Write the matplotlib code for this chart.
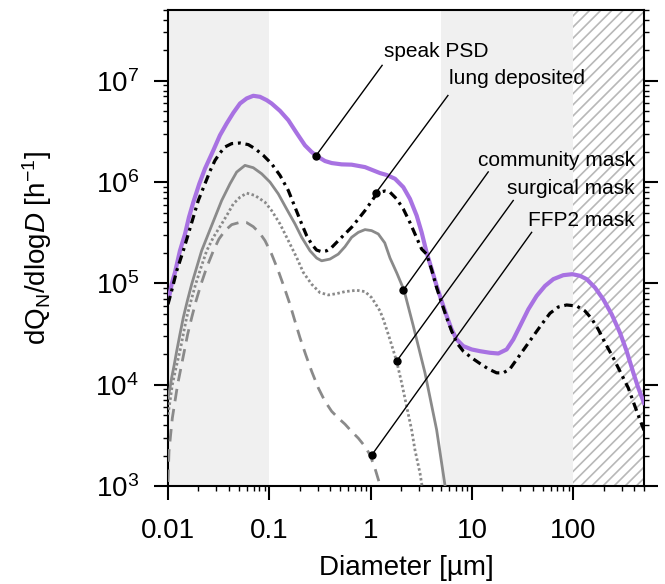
import numpy as np
import matplotlib
matplotlib.use('Agg')
import matplotlib.pyplot as plt
from matplotlib.ticker import LogLocator, FixedLocator, FixedFormatter, NullFormatter

plt.rcParams['font.family'] = ['Liberation Sans', 'DejaVu Sans']
plt.rcParams['mathtext.fontset'] = 'custom'
plt.rcParams['mathtext.rm'] = 'Liberation Sans'
plt.rcParams['mathtext.it'] = 'Liberation Sans:italic'
plt.rcParams['hatch.linewidth'] = 1.2

# curves: log10(diameter in um), log10(dQN/dlogD)
speak_lx = [-2.000, -1.980, -1.964, -1.931, -1.882, -1.832, -1.793, -1.750, -1.691, -1.635,
            -1.552, -1.487, -1.421, -1.355, -1.289, -1.223, -1.158, -1.092, -1.026, -0.977,
            -0.894, -0.812, -0.730, -0.648, -0.582, -0.532, -0.450, -0.384, -0.286, -0.187,
            -0.055, 0.093, 0.159, 0.241, 0.323, 0.389, 0.455, 0.504, 0.553, 0.603,
            0.652, 0.701, 0.751, 0.800, 0.850, 0.915, 0.998, 1.080, 1.179, 1.261,
            1.343, 1.409, 1.475, 1.557, 1.639, 1.722, 1.804, 1.902, 1.991, 2.067,
            2.133, 2.215, 2.297, 2.380, 2.462, 2.528, 2.594, 2.643, 2.699]
speak_ly = [4.827, 4.909, 4.992, 5.108, 5.322, 5.488, 5.653, 5.801, 5.983, 6.132,
            6.314, 6.462, 6.578, 6.684, 6.776, 6.826, 6.852, 6.842, 6.809, 6.776,
            6.703, 6.611, 6.485, 6.363, 6.297, 6.257, 6.208, 6.188, 6.175, 6.172,
            6.148, 6.089, 6.070, 6.033, 5.950, 5.834, 5.669, 5.504, 5.306, 5.141,
            4.976, 4.827, 4.678, 4.546, 4.447, 4.381, 4.348, 4.331, 4.315, 4.308,
            4.348, 4.447, 4.579, 4.744, 4.876, 4.975, 5.042, 5.081, 5.091, 5.075,
            5.042, 4.959, 4.843, 4.695, 4.513, 4.331, 4.117, 3.968, 3.820]

lung_lx = [-2.000, -1.964, -1.914, -1.849, -1.799, -1.750, -1.701, -1.635, -1.585, -1.536,
           -1.487, -1.437, -1.371, -1.289, -1.207, -1.141, -1.059, -0.977, -0.894, -0.812,
           -0.746, -0.680, -0.631, -0.582, -0.533, -0.483, -0.434, -0.384, -0.286, -0.187,
           -0.121, -0.055, 0.010, 0.060, 0.093, 0.142, 0.191, 0.257, 0.323, 0.389,
           0.455, 0.504, 0.553, 0.603, 0.652, 0.701, 0.751, 0.800, 0.850, 0.915,
           0.998, 1.080, 1.162, 1.244, 1.310, 1.376, 1.442, 1.524, 1.606, 1.689,
           1.771, 1.853, 1.935, 2.034, 2.116, 2.182, 2.248, 2.314, 2.396, 2.478,
           2.544, 2.610, 2.659, 2.699]
lung_ly = [4.794, 4.926, 5.124, 5.322, 5.488, 5.653, 5.818, 5.983, 6.109, 6.214,
           6.287, 6.347, 6.380, 6.386, 6.370, 6.330, 6.264, 6.181, 6.066, 5.917,
           5.752, 5.587, 5.471, 5.388, 5.329, 5.313, 5.322, 5.355, 5.455, 5.554,
           5.636, 5.719, 5.811, 5.884, 5.901, 5.912, 5.901, 5.834, 5.735, 5.600,
           5.450, 5.339, 5.289, 5.134, 4.959, 4.810, 4.662, 4.530, 4.414, 4.331,
           4.265, 4.209, 4.156, 4.117, 4.117, 4.156, 4.249, 4.364, 4.480, 4.596,
           4.705, 4.767, 4.787, 4.777, 4.728, 4.652, 4.546, 4.414, 4.265, 4.100,
           3.968, 3.786, 3.654, 3.550]

community_lx = [-2.000, -1.980, -1.964, -1.938, -1.914, -1.882, -1.849, -1.809, -1.766, -1.717,
                -1.668, -1.602, -1.536, -1.470, -1.388, -1.322, -1.240, -1.158, -1.075, -0.993,
                -0.911, -0.829, -0.746, -0.680, -0.598, -0.532, -0.483, -0.401, -0.319, -0.253,
                -0.187, -0.121, -0.055, 0.010, 0.076, 0.140, 0.192, 0.260, 0.330, 0.422,
                0.537, 0.652, 0.734, 0.784]
community_ly = [3.869, 3.968, 4.067, 4.199, 4.331, 4.497, 4.662, 4.827, 4.992, 5.157,
                5.322, 5.488, 5.653, 5.818, 5.983, 6.099, 6.165, 6.142, 6.082, 6.000,
                5.884, 5.735, 5.587, 5.455, 5.322, 5.250, 5.223, 5.240, 5.289, 5.362,
                5.455, 5.504, 5.531, 5.521, 5.488, 5.400, 5.250, 5.100, 4.933, 4.579,
                4.117, 3.555, 3.010, 2.710]

surgical_lx = [-2.000, -1.980, -1.957, -1.921, -1.882, -1.849, -1.816, -1.773, -1.727, -1.674,
               -1.618, -1.552, -1.470, -1.411, -1.355, -1.289, -1.223, -1.141, -1.042, -0.977,
               -0.894, -0.812, -0.730, -0.664, -0.582, -0.500, -0.417, -0.335, -0.253, -0.138,
               -0.055, 0.010, 0.093, 0.126, 0.191, 0.257, 0.307, 0.356, 0.405, 0.438,
               0.488, 0.504, 0.521]
surgical_ly = [3.704, 3.836, 4.001, 4.166, 4.331, 4.497, 4.662, 4.827, 4.992, 5.157,
               5.322, 5.455, 5.587, 5.686, 5.785, 5.851, 5.891, 5.868, 5.801, 5.719,
               5.587, 5.422, 5.256, 5.108, 4.992, 4.909, 4.886, 4.899, 4.919, 4.932,
               4.919, 4.860, 4.728, 4.645, 4.447, 4.232, 4.017, 3.786, 3.555, 3.357,
               3.126, 3.026, 2.927]

ffp2_lx = [-2.000, -1.990, -1.974, -1.957, -1.931, -1.905, -1.872, -1.839, -1.806, -1.766,
           -1.723, -1.674, -1.618, -1.552, -1.497, -1.437, -1.371, -1.289, -1.223, -1.158,
           -1.092, -1.042, -0.977, -0.911, -0.852, -0.796, -0.747, -0.697, -0.641, -0.582,
           -0.516, -0.450, -0.384, -0.319, -0.253, -0.187, -0.121, -0.055, -0.006, 0.043,
           0.093, 0.126]
ffp2_ly = [3.040, 3.340, 3.505, 3.671, 3.836, 4.001, 4.166, 4.331, 4.497, 4.662,
           4.827, 4.992, 5.157, 5.322, 5.438, 5.521, 5.580, 5.603, 5.600, 5.560,
           5.494, 5.422, 5.289, 5.124, 4.959, 4.794, 4.629, 4.464, 4.298, 4.133,
           3.968, 3.836, 3.737, 3.671, 3.611, 3.538, 3.472, 3.390, 3.307, 3.175,
           3.010, 2.878]

# annotations: label, dot (x, y), line start (x, y), text (x, y), alignment
labels = ['speak PSD', 'lung deposited', 'community mask', 'surgical mask', 'FFP2 mask']
dot_xy = [(0.289, 1.82e6), (1.13, 7.83e5), (2.10, 8.57e4), (1.81, 1.71e4), (1.03, 2.03e3)]
line_xy = [(1.30, 1.42e7), (5.8, 7.16e6), (14.5, 1.26e6), (25.6, 6.58e5), (38.9, 3.19e5)]
text_xy = [(1.36, 1.95e7), (5.94, 1.06e7), (407, 1.64e6), (407, 8.6e5), (407, 4.16e5)]
text_ha = ['left', 'left', 'right', 'right', 'right']

purple = '#a872e2'
gray = '#8a8a8a'

fig = plt.figure(figsize=(6.65, 5.84), dpi=100)
ax = fig.add_axes([0.2526, 0.1678, 0.9684 - 0.2526, 0.9829 - 0.1678])

ax.axvspan(0.01, 0.1, color='#f0f0f0', lw=0, zorder=0)
ax.axvspan(5, 100, color='#f0f0f0', lw=0, zorder=0)
ax.axvspan(100, 500, facecolor='white', edgecolor='#b8b8b8', hatch='///', lw=0, zorder=0)


def pts(lx, ly):
    return 10 ** np.array(lx), 10 ** np.array(ly)


ax.plot(*pts(ffp2_lx, ffp2_ly), color=gray, lw=2.0, ls=(0, (4.5, 2.8)), zorder=3)
ax.plot(*pts(surgical_lx, surgical_ly), color=gray, lw=2.0, ls=(0, (0.9, 0.9)), zorder=3)
ax.plot(*pts(community_lx, community_ly), color=gray, lw=2.0, zorder=3)
ax.plot(*pts(speak_lx, speak_ly), color=purple, lw=3.0, zorder=4)
ax.plot(*pts(lung_lx, lung_ly), color='black', lw=2.3, ls=(0, (2.7, 1.5, 0.9, 1.5)), zorder=5)

for lab, d, l, t, ha in zip(labels, dot_xy, line_xy, text_xy, text_ha):
    ax.plot([d[0], l[0]], [d[1], l[1]], color='black', lw=1.0, zorder=6)
    ax.plot(d[0], d[1], 'o', color='black', ms=5, zorder=7)
    ax.text(t[0], t[1], lab, ha=ha, va='center', fontsize=15, zorder=7)

ax.set_xscale('log')
ax.set_yscale('log')
ax.set_xlim(0.01, 500)
ax.set_ylim(1e3, 5e7)

ax.xaxis.set_major_locator(FixedLocator([0.01, 0.1, 1, 10, 100]))
ax.xaxis.set_major_formatter(FixedFormatter(['0.01', '0.1', '1', '10', '100']))
ax.xaxis.set_minor_locator(LogLocator(base=10, subs=np.arange(2, 10), numticks=20))
ax.xaxis.set_minor_formatter(NullFormatter())
ax.yaxis.set_major_locator(LogLocator(base=10, numticks=20))
ax.yaxis.set_minor_locator(LogLocator(base=10, subs=np.arange(2, 10), numticks=20))
ax.yaxis.set_minor_formatter(NullFormatter())

ax.tick_params(which='both', direction='out', top=False, right=True, labelsize=20)
ax.tick_params(which='major', length=10, width=1.5)
ax.tick_params(which='minor', length=3.5, width=1.0)
ax.tick_params(axis='x', which='major', pad=13)
ax.tick_params(axis='y', which='major', pad=11)
for s in ax.spines.values():
    s.set_linewidth(1.5)

ax.set_xlabel('Diameter [µm]', fontsize=20, labelpad=8)
ax.set_ylabel('dQ$_\\mathrm{N}$/dlog$D$ [h$^{-1}$]', fontsize=20, labelpad=30)

fig.savefig('out.png', dpi=100)
